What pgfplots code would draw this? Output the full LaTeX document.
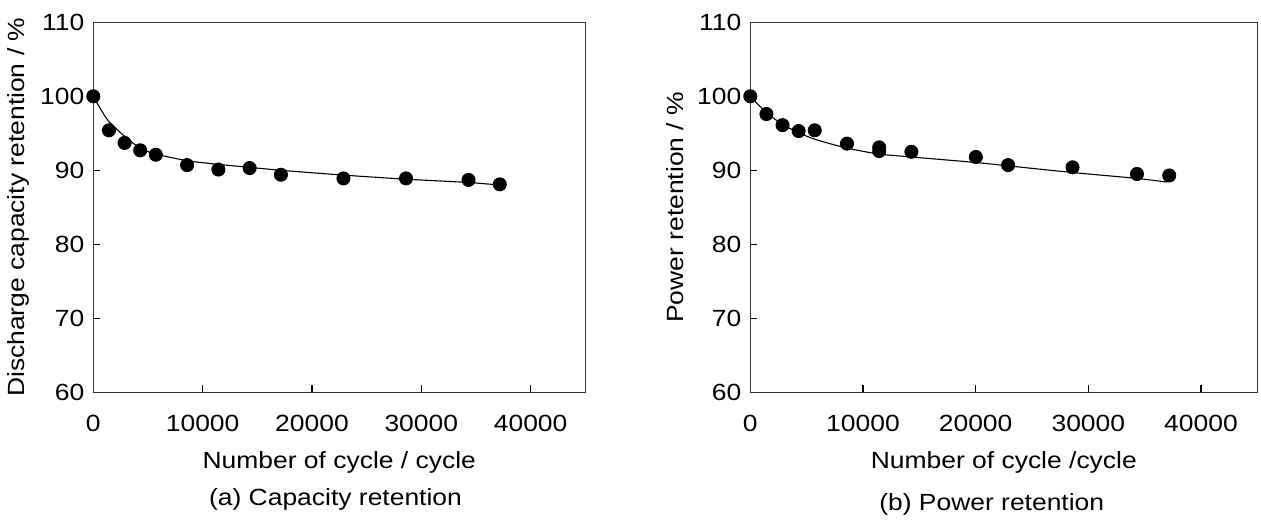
\documentclass[border=0pt]{standalone}
\usepackage{fontspec}
\setmainfont{Liberation Sans}[FakeStretch=1.13]
\usepackage{pgfplots}
\pgfplotsset{compat=1.18}
\pgfplotstableread{
x y
0 100
1430 95.4
2860 93.7
4290 92.7
5720 92.1
8580 90.7
11440 90.1
14300 90.3
17160 89.4
22880 88.9
28600 88.9
34320 88.7
37180 88.1
}\capdata
\pgfplotstableread{
x y
0 100
1430 97.6
2860 96.1
4290 95.3
5720 95.4
8580 93.6
11440 93.1
11440 92.6
14300 92.5
20020 91.8
22880 90.7
28600 90.4
34320 89.5
37180 89.3
}\powdata
\begin{document}
\begin{tikzpicture}
\pgfplotsset{
  myax/.style={
    scale only axis, height=185pt,
    xmin=0, xmax=45000, ymin=60, ymax=110,
    xtick={0,10000,20000,30000,40000},
    ytick={60,70,80,90,100,110},
    tick align=inside, major tick length=3.5pt,
    xtick pos=bottom, ytick pos=left,
    scaled ticks=false,
    /pgf/number format/1000 sep={},
    /pgf/number format/assume math mode=true,
    tick label style={font=\fontsize{11.7}{14}\selectfont},
    label style={font=\fontsize{11.7}{14}\selectfont},
    xticklabel style={anchor=base, yshift=-19.7pt},
    yticklabel style={xshift=-1pt},
    axis line style={black!80, line width=0.65pt},
    every tick/.style={black, line width=0.6pt},
    xlabel style={at={(axis description cs:0.5,0)}, anchor=base, yshift=-38pt},
  }
}
\begin{axis}[myax, width=246pt, at={(0pt,0pt)}, anchor=south west,
  xlabel={Number of cycle / cycle},
  ylabel={Discharge capacity retention / \%},
  ylabel style={at={(axis description cs:-0.153,0.5)}, anchor=center}]
\addplot[black, line width=0.55pt, smooth, no marks] coordinates {
(0,100) (700,98.2) (1430,96.6) (2860,94.6) (4290,93.0) (5720,92.2) (8580,91.3)
(11440,90.8) (14300,90.4) (17160,90.0) (22880,89.35) (28600,88.8) (34320,88.35) (37180,88.0)};
\addplot[only marks, mark=*, mark size=3.3pt, black] table[x=x,y=y] {\capdata};
\end{axis}
\begin{axis}[myax, width=253.5pt, at={(328.5pt,0pt)}, anchor=south west,
  xlabel={Number of cycle /cycle},
  ylabel={Power retention / \%},
  ylabel style={at={(axis description cs:-0.149,0.5)}, anchor=center}]
\addplot[black, line width=0.55pt, smooth, no marks] coordinates {
(0,100) (1430,97.8) (2860,96.2) (4290,95.1) (5720,94.2) (8580,93.0) (11440,92.2)
(14300,91.8) (20020,91.05) (22880,90.6) (28600,89.7) (34320,88.9) (37000,88.4)};
\addplot[only marks, mark=*, mark size=3.3pt, black] table[x=x,y=y] {\powdata};
\end{axis}
\node[anchor=base, font=\fontsize{11.7}{14}\selectfont] at (121.1pt,-56.85pt) {(a) Capacity retention};
\node[anchor=base, font=\fontsize{11.7}{14}\selectfont] at (449.2pt,-59pt) {(b) Power retention};
\pgfresetboundingbox
\path (-46.65pt,-64.85pt) rectangle (583.85pt,196.15pt);
\end{tikzpicture}
\end{document}
